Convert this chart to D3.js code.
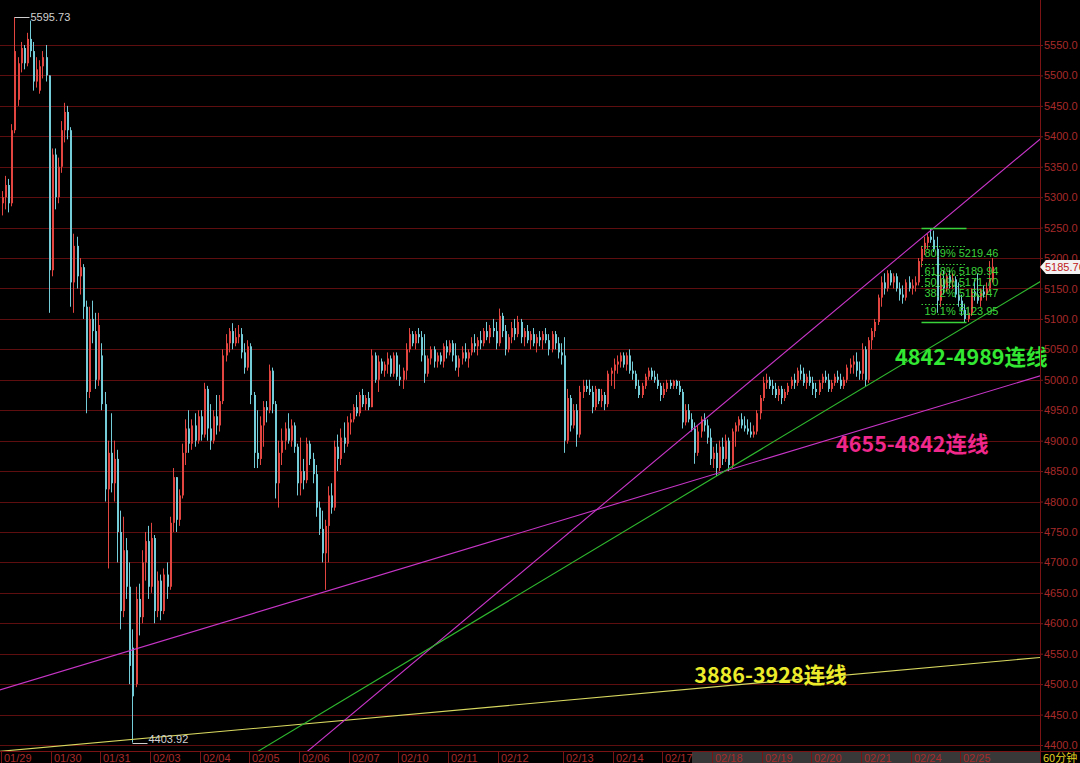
<!DOCTYPE html>
<html><head><meta charset="utf-8">
<script src="https://cdn.jsdelivr.net/npm/d3@7"></script>
<style>html,body{margin:0;padding:0;background:#000;overflow:hidden}</style>
</head><body>
<svg id="c" width="1080" height="763"></svg>
<script>
// ---------- data ----------
const days = ["01/29","01/30","01/31","02/03","02/04","02/05","02/06","02/07","02/10","02/11","02/12","02/13","02/14","02/17","02/18","02/19","02/20","02/21","02/24","02/25"];
const barsPerDay = [16,16,16,16,16,16,16,16,16,16,21,16,16,16,16,16,16,16,16,11];
// [open, high, low, close] hourly candles
const ohlc = [
// 01/29
[5290,5310,5270,5300],[5300,5335,5280,5320],[5320,5330,5275,5290],[5290,5420,5285,5410],[5410,5595.73,5405,5540],[5460,5530,5450,5520],[5520,5555,5505,5545],[5545,5550,5510,5520],[5520,5570,5515,5560],[5560,5590,5530,5540],[5540,5555,5475,5490],[5490,5530,5480,5510],[5475,5525,5470,5515],[5515,5540,5495,5530],[5530,5550,5490,5500],[5500,5500,5110,5180],
// 01/30
[5180,5380,5170,5370],[5370,5380,5280,5300],[5300,5365,5290,5350],[5350,5425,5340,5410],[5410,5455,5390,5440],[5440,5450,5395,5410],[5410,5415,5120,5160],[5160,5240,5110,5220],[5220,5235,5150,5170],[5170,5200,5140,5185],[5185,5190,5100,5120],[5120,5130,4945,4980],[4980,5120,4970,5100],[5100,5130,5060,5080],[5080,5110,4985,5000],[5000,5110,4990,5090],
// 01/31
[5040,5060,4950,4960],[4960,4980,4800,4820],[4820,4900,4690,4880],[4880,4945,4815,4830],[4830,4900,4800,4870],[4870,4885,4700,4750],[4750,4785,4590,4620],[4620,4775,4610,4720],[4720,4740,4640,4660],[4660,4700,4500,4530],[4560,4590,4403.92,4480],[4500,4660,4495,4640],[4640,4665,4580,4610],[4610,4720,4600,4700],[4700,4750,4670,4735],[4735,4760,4640,4660],
// 02/03
[4660,4765,4650,4740],[4740,4745,4600,4620],[4620,4685,4610,4670],[4670,4680,4605,4620],[4620,4690,4615,4680],[4680,4700,4640,4660],[4660,4775,4655,4765],[4765,4855,4750,4840],[4840,4840,4750,4770],[4770,4820,4760,4810],[4810,4895,4805,4880],[4880,4935,4860,4920],[4920,4950,4880,4895],[4895,4935,4885,4925],[4925,4945,4890,4900],[4900,4950,4895,4940],
// 02/04
[4940,4950,4900,4910],[4910,4995,4905,4985],[4985,4990,4900,4920],[4920,4960,4885,4900],[4900,4950,4895,4940],[4940,4975,4910,4925],[4925,4975,4915,4965],[4965,5050,4960,5040],[5040,5075,5030,5060],[5060,5085,5045,5080],[5080,5093,5050,5060],[5060,5085,5055,5070],[5070,5090,5060,5075],[5075,5085,5035,5045],[5045,5060,5010,5020],[5020,5065,5015,5055],
// 02/05
[5055,5060,4960,4975],[4975,4980,4855,4880],[4880,4950,4855,4870],[4870,4940,4860,4925],[4925,4965,4890,4955],[4955,4965,4930,4950],[4950,5025,4945,5015],[5015,5020,4945,4960],[4960,4965,4805,4830],[4830,4900,4790,4880],[4880,4920,4860,4900],[4900,4930,4885,4920],[4920,4945,4895,4900],[4900,4935,4890,4925],[4925,4930,4880,4890],[4890,4895,4810,4830],
// 02/06
[4830,4905,4810,4850],[4850,4870,4820,4835],[4835,4905,4830,4895],[4895,4900,4860,4870],[4870,4880,4830,4845],[4845,4860,4775,4790],[4790,4800,4745,4755],[4755,4785,4700,4715],[4715,4770,4655,4760],[4760,4825,4700,4810],[4810,4830,4780,4790],[4790,4900,4785,4890],[4890,4910,4850,4870],[4870,4920,4860,4905],[4905,4930,4880,4895],[4895,4940,4890,4930],
// 02/07
[4930,4945,4910,4935],[4935,4960,4930,4955],[4955,4975,4940,4945],[4945,4980,4940,4975],[4975,4985,4955,4960],[4960,4975,4950,4970],[4970,4980,4950,4955],[4955,5050,4955,5040],[5040,5045,4995,5000],[5000,5040,4980,5030],[5030,5035,5010,5015],[5015,5030,5005,5025],[5025,5045,5010,5035],[5035,5040,5005,5010],[5010,5045,5005,5040],[5040,5045,5000,5005],
// 02/10
[5005,5025,4990,5000],[5000,5020,4985,5015],[5015,5060,5000,5050],[5050,5085,5045,5075],[5075,5080,5055,5060],[5060,5080,5050,5075],[5075,5085,5060,5070],[5070,5080,5030,5040],[5040,5075,4995,5010],[5010,5040,5005,5035],[5035,5055,5025,5050],[5050,5055,5020,5030],[5030,5045,5020,5040],[5040,5045,5025,5030],[5030,5060,5020,5055],[5055,5065,5035,5045],
// 02/11
[5045,5065,5040,5060],[5060,5065,5030,5040],[5040,5060,5015,5020],[5020,5040,5005,5035],[5035,5055,5025,5045],[5045,5060,5030,5035],[5035,5050,5020,5045],[5045,5070,5040,5060],[5060,5075,5045,5055],[5055,5070,5040,5065],[5065,5080,5050,5060],[5060,5085,5055,5080],[5080,5095,5065,5070],[5070,5090,5060,5085],[5085,5100,5070,5080],[5080,5095,5050,5060],
// 02/12
[5060,5117,5055,5105],[5105,5110,5070,5080],[5080,5090,5040,5050],[5050,5075,5045,5070],[5070,5095,5060,5085],[5085,5100,5065,5075],[5075,5105,5070,5095],[5095,5100,5060,5070],[5070,5085,5055,5080],[5080,5090,5060,5065],[5065,5080,5050,5075],[5075,5085,5055,5060],[5060,5075,5045,5070],[5070,5080,5055,5065],[5065,5080,5050,5075],[5075,5085,5060,5065],[5065,5075,5040,5050],[5050,5080,5045,5075],[5075,5080,5050,5060],[5060,5070,5035,5045],[5045,5060,5025,5040],
// 02/13
[5040,5070,4880,4900],[4900,4985,4895,4970],[4970,4975,4915,4925],[4925,4960,4920,4950],[4950,4960,4890,4910],[4910,4990,4905,4980],[4980,5000,4970,4990],[4990,5000,4980,4985],[4985,5000,4975,4980],[4980,4990,4945,4955],[4955,4990,4950,4985],[4985,4985,4960,4965],[4965,4985,4955,4975],[4975,4980,4950,4960],[4960,5015,4955,5010],[5010,5020,4990,5015],
// 02/14
[5015,5035,4985,5025],[5025,5040,5010,5030],[5030,5045,5020,5040],[5040,5045,5020,5025],[5025,5045,5015,5040],[5040,5050,5010,5015],[5015,5030,5000,5010],[5010,5015,4985,4990],[4990,5000,4970,4975],[4975,4995,4970,4990],[4990,5010,4985,5005],[5005,5020,5000,5015],[5015,5020,5000,5005],[5005,5015,4995,5000],[5000,5010,4985,4990],[4990,4995,4965,4975],
// 02/17
[4975,4995,4970,4985],[4985,5000,4980,4995],[4995,5000,4985,4990],[4990,5000,4985,4998],[4998,5000,4985,4990],[4990,4998,4975,4980],[4980,4985,4920,4930],[4930,4960,4925,4950],[4950,4960,4930,4935],[4935,4945,4915,4920],[4920,4930,4862,4880],[4880,4925,4875,4915],[4915,4940,4905,4935],[4935,4945,4915,4925],[4925,4935,4895,4905],[4905,4920,4860,4870],
// 02/18
[4870,4890,4855,4880],[4880,4895,4842,4855],[4855,4900,4850,4890],[4890,4905,4860,4870],[4870,4910,4865,4900],[4900,4905,4850,4860],[4860,4920,4855,4915],[4915,4930,4890,4925],[4925,4940,4915,4935],[4935,4945,4920,4925],[4925,4940,4915,4920],[4920,4935,4910,4915],[4915,4930,4905,4910],[4910,4925,4905,4915],[4915,4950,4910,4945],[4945,4975,4935,4970],
// 02/19
[4970,5005,4965,4995],[4995,5010,4985,5000],[5000,5005,4985,4990],[4990,5000,4975,4985],[4985,4995,4970,4975],[4975,4990,4965,4985],[4985,4990,4960,4970],[4970,4985,4965,4980],[4980,4995,4975,4990],[4990,5005,4985,5000],[5000,5010,4985,4995],[4995,5020,4990,5015],[5015,5025,5000,5010],[5010,5020,4990,4995],[4995,5010,4985,5005],[5005,5015,4990,4995],
// 02/20
[4995,5005,4975,4985],[4985,4995,4970,4980],[4980,5000,4975,4995],[4995,5010,4985,5005],[5005,5015,4995,5000],[5000,5010,4980,4985],[4985,5000,4980,4995],[4995,5010,4990,5005],[5005,5015,4995,5000],[5000,5010,4985,4990],[4990,5005,4985,5000],[5000,5025,4995,5020],[5020,5035,5010,5025],[5025,5040,5010,5030],[5030,5045,5005,5015],[5015,5030,5000,5010],
// 02/21
[5010,5060,5000,5050],[5050,5055,4989,5000],[5000,5070,4995,5065],[5065,5085,5050,5080],[5080,5100,5070,5095],[5095,5140,5090,5135],[5135,5170,5120,5160],[5160,5175,5140,5150],[5150,5180,5145,5175],[5175,5180,5155,5160],[5160,5175,5150,5170],[5170,5175,5145,5150],[5150,5160,5130,5140],[5140,5155,5125,5135],[5135,5165,5130,5160],[5160,5170,5145,5150],
// 02/24
[5150,5165,5140,5155],[5155,5170,5145,5160],[5160,5200,5155,5195],[5195,5220,5185,5215],[5215,5235,5205,5225],[5225,5240,5215,5235],[5235,5248.98,5225,5230],[5230,5245,5210,5215],[5215,5235,5110,5130],[5130,5175,5120,5165],[5165,5180,5140,5150],[5150,5175,5145,5170],[5170,5180,5150,5160],[5160,5175,5150,5165],[5165,5170,5135,5140],[5140,5160,5120,5130],
// 02/25
[5130,5140,5105,5115],[5115,5125,5094.42,5100],[5100,5120,5095,5110],[5110,5150,5105,5145],[5145,5165,5130,5140],[5140,5175,5125,5130],[5130,5150,5120,5145],[5145,5155,5135,5140],[5140,5160,5130,5150],[5150,5195,5145,5165],[5165,5200,5160,5185.76]
];
const yTicks = [4400,4450,4500,4550,4600,4650,4700,4750,4800,4850,4900,4950,5000,5050,5100,5150,5200,5250,5300,5350,5400,5450,5500,5550];

// trend lines: two anchors each [barIndex, price]
const line4655_4842 = [[104,4652],[230,4846]];
const line4842_4989 = [[230,4842],[278,4989]];
const lineUpper = [[106.5,4425],[332,5386]];
const line3886_3928 = [[2.4,4391],[334.7,4544]];
const trendLabels = ["4842-4989连线","4655-4842连线","3886-3928连线"];
const trendLabelAnchors = [[288,5037],[269,4894],[223.3,4515]];

// fibonacci retracement
const fibHigh = 5248.98, fibLow = 5094.42;
const fibSpan = [296.5, 311];
const fibPercents = ["80.9%","61.8%","50.0%","38.2%","19.1%"];
const fibValues = [5219.46,5189.94,5171.70,5153.47,5123.95];

const periodLabel = "60分钟";

// ---------- drawing ----------
const W = 1080, H = 763, plotR = 1040, plotB = 751;
const svg = d3.select("#c");
svg.append("rect").attr("width",W).attr("height",H).attr("fill","#000");

const x = d3.scaleLinear().domain([0,335]).range([1,1041]);
const y = d3.scaleLinear().domain([4400,5550]).range([745,45]);

svg.append("defs").append("clipPath").attr("id","plot")
  .append("rect").attr("x",0).attr("y",0).attr("width",plotR).attr("height",plotB);

// grid
const gridColor = "#5e0e0e";
svg.append("g").selectAll("line").data(yTicks).join("line")
  .attr("x1",0).attr("x2",plotR)
  .attr("y1",d=>Math.round(y(d))+0.5).attr("y2",d=>Math.round(y(d))+0.5)
  .attr("stroke",gridColor).attr("stroke-width",1);

// candles
const gC = svg.append("g").attr("clip-path","url(#plot)");
const upColor = "#e2453f", dnColor = "#74ccd9";
ohlc.forEach((d,i)=>{
  const [o,h,l,c] = d;
  const xc = Math.floor(x(i+0.5));
  const col = c>=o ? upColor : dnColor;
  gC.append("line").attr("x1",xc+0.5).attr("x2",xc+0.5)
    .attr("y1",y(h)).attr("y2",y(l)).attr("stroke",col).attr("stroke-width",1);
  const top = y(Math.max(o,c)), bot = y(Math.min(o,c));
  gC.append("rect").attr("x",xc).attr("width",2)
    .attr("y",top).attr("height",Math.max(1,bot-top)).attr("fill",col);
});

// trend lines
const gL = svg.append("g").attr("clip-path","url(#plot)");
function trend(anchors,color){
  const [[i1,p1],[i2,p2]] = anchors;
  const k = (p2-p1)/(i2-i1);
  const a = -5, b = 340;
  gL.append("line")
    .attr("x1",x(a+0.5)).attr("y1",y(p1+k*(a-i1)))
    .attr("x2",x(b+0.5)).attr("y2",y(p1+k*(b-i1)))
    .attr("stroke",color).attr("stroke-width",1.1);
}
trend(line3886_3928,"#d8d860");
trend(line4655_4842,"#c735c7");
trend(lineUpper,"#c735c7");
trend(line4842_4989,"#2fb82f");

// fibonacci
const gF = svg.append("g");
const fx1 = x(fibSpan[0]), fx2 = x(fibSpan[1]);
const fibGreen = "#3ad23a";
[fibHigh,fibLow].forEach(v=>{
  gF.append("line").attr("x1",fx1).attr("x2",fx2)
    .attr("y1",Math.round(y(v))+0.5).attr("y2",Math.round(y(v))+0.5)
    .attr("stroke",fibGreen).attr("stroke-width",1.3);
});
fibValues.forEach((v,k)=>{
  const yy = Math.round(y(v))+0.5;
  gF.append("line").attr("x1",fx1).attr("x2",fx2).attr("y1",yy).attr("y2",yy)
    .attr("stroke",fibGreen).attr("stroke-dasharray","1.5,2").attr("stroke-width",1);
  gF.append("text").attr("x",fx1+3).attr("y",yy+10.5)
    .attr("fill",fibGreen).attr("font-family","Liberation Sans, Arial, sans-serif")
    .attr("font-size",11).text(fibPercents[k]+" "+v.toFixed(2));
});

// trend labels
const labelColors = ["#33e833","#f0288c","#ecec2a"];
trendLabels.forEach((t,k)=>{
  svg.append("text").attr("x",x(trendLabelAnchors[k][0])).attr("y",y(trendLabelAnchors[k][1]))
    .attr("dy","0.36em").attr("fill",labelColors[k])
    .attr("font-family","Noto Sans CJK SC, sans-serif").attr("font-weight","bold")
    .attr("font-size",21.5).text(t);
});

// high / low labels
const highs = ohlc.map(d=>d[1]), lows = ohlc.map(d=>d[2]);
const iH = d3.maxIndex(highs), iL = d3.minIndex(lows);
const labFont = "Liberation Sans, Arial, sans-serif";
{
  const hx = Math.floor(x(iH+0.5))+0.5, hy = Math.round(y(highs[iH]))+0.5;
  svg.append("line").attr("x1",hx).attr("x2",hx+15).attr("y1",hy).attr("y2",hy).attr("stroke","#cfcfcf");
  svg.append("text").attr("x",hx+16).attr("y",hy).attr("dy","0.35em").attr("fill","#d0d0d0")
    .attr("font-family",labFont).attr("font-size",11).text(highs[iH].toFixed(2));
  const lx = Math.floor(x(iL+0.5))+0.5, ly = Math.round(y(lows[iL]))+0.5;
  svg.append("line").attr("x1",lx).attr("x2",lx+15).attr("y1",ly).attr("y2",ly).attr("stroke","#cfcfcf");
  svg.append("text").attr("x",lx+16).attr("y",ly-1).attr("fill","#d0d0d0")
    .attr("font-family",labFont).attr("font-size",11).text(lows[iL].toFixed(2));
}

// right axis
const axisRed = "#a82a2a";
svg.append("line").attr("x1",plotR+0.5).attr("x2",plotR+0.5).attr("y1",0).attr("y2",H)
  .attr("stroke","#7a1414");
const ax = svg.append("g").attr("transform",`translate(${plotR},0)`)
  .call(d3.axisRight(y).tickValues(yTicks).tickFormat(d3.format(".1f")).tickSize(3).tickPadding(1));
ax.select(".domain").remove();
ax.selectAll("line").attr("stroke","#7a1414");
ax.selectAll("text").attr("fill",axisRed).attr("font-family",labFont).attr("font-size",11);

// bottom axis
svg.append("rect").attr("x",692).attr("y",plotB+1).attr("width",plotR-692).attr("height",H-plotB-1).attr("fill","#383838");
svg.append("line").attr("x1",0).attr("x2",W).attr("y1",plotB+0.5).attr("y2",plotB+0.5).attr("stroke","#7a1414");
const dayStarts = d3.cumsum([0].concat(barsPerDay.slice(0,-1)));
const gX = svg.append("g");
days.forEach((d,k)=>{
  const px = Math.round(x(dayStarts[k]))+0.5;
  gX.append("line").attr("x1",px).attr("x2",px).attr("y1",plotB).attr("y2",H).attr("stroke","#7a1414");
  gX.append("text").attr("x",px+2.5).attr("y",H-1.5).attr("fill",axisRed)
    .attr("font-family",labFont).attr("font-size",11).text(d);
});
svg.append("text").attr("x",plotR+3).attr("y",H-1).attr("fill","#e0d020")
  .attr("font-family","Noto Sans CJK SC, sans-serif").attr("font-size",11).text(periodLabel);

// last price tag
const last = ohlc[ohlc.length-1][3];
const ty = Math.round(y(last));
svg.append("path").attr("d",`M${plotR},${ty} L${plotR+6},${ty-7} L${W},${ty-7} L${W},${ty+7} L${plotR+6},${ty+7} Z`)
  .attr("fill","#f2f2f2");
svg.append("text").attr("x",plotR+5).attr("y",ty).attr("dy","0.36em").attr("fill","#c02020")
  .attr("font-family",labFont).attr("font-size",11).text(last.toFixed(2));
</script>
</body></html>
